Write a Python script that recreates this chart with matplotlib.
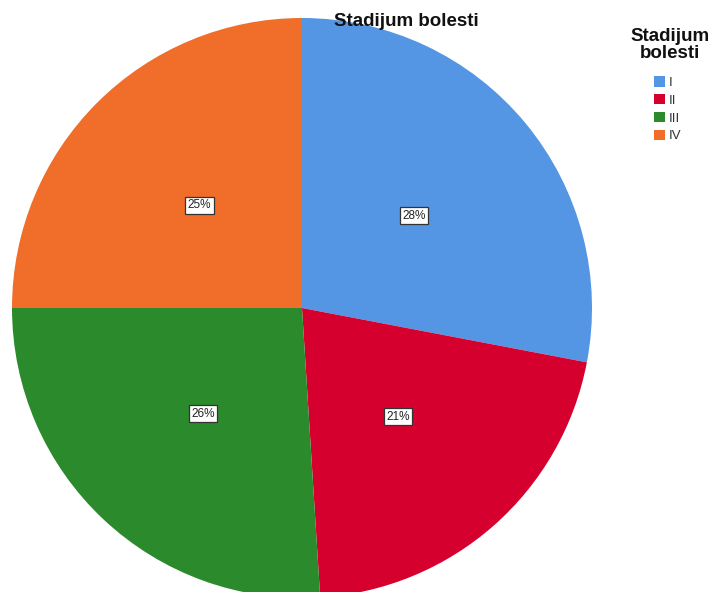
import matplotlib.pyplot as plt
from matplotlib.patches import Patch

plt.rcParams['font.family'] = ['Liberation Sans', 'DejaVu Sans']

stages = ['I', 'II', 'III', 'IV']
shares = [28, 21, 26, 25]
colors = ['#5495E4', '#D6002F', '#2A8A2C', '#F06D2A']

W, H = 712, 592
fig = plt.figure(figsize=(W / 100, H / 100), dpi=100)
ax = fig.add_axes([0, 0, 1, 1])

wedges, texts, autotexts = ax.pie(
    shares, colors=colors, startangle=90, counterclock=False,
    center=(302, H - 308), radius=290, autopct='%d%%', pctdistance=0.5,
    wedgeprops=dict(linewidth=0), textprops=dict(fontsize=8.5, color='#222222'),
    frame=True)
ax.set_xlim(0, W)
ax.set_ylim(0, H)
ax.axis('off')
for t in autotexts:
    t.set_bbox(dict(boxstyle='square,pad=0.2', facecolor='white',
                    edgecolor='#333333', linewidth=0.9))

ax.text(406, H - 22, 'Stadijum bolesti', ha='center', va='center',
        fontsize=13.5, fontweight='bold', color='#111111')

fig.text(670 / W, 1 - 45 / H, 'Stadijum\nbolesti', ha='center', va='center',
         fontsize=13.5, fontweight='bold', color='#111111', linespacing=1.05)

handles = [Patch(facecolor=c, edgecolor='none') for c in colors]
leg = ax.legend(handles, stages, loc='upper left',
                bbox_to_anchor=(654 / W, 1 - 76 / H),
                bbox_transform=fig.transFigure, frameon=False, fontsize=9.5,
                handlelength=0.85, handleheight=0.85, handletextpad=0.3,
                labelspacing=0.38, borderaxespad=0, borderpad=0)
for t in leg.get_texts():
    t.set_color('#333333')

fig.savefig('out.png', dpi=100)
